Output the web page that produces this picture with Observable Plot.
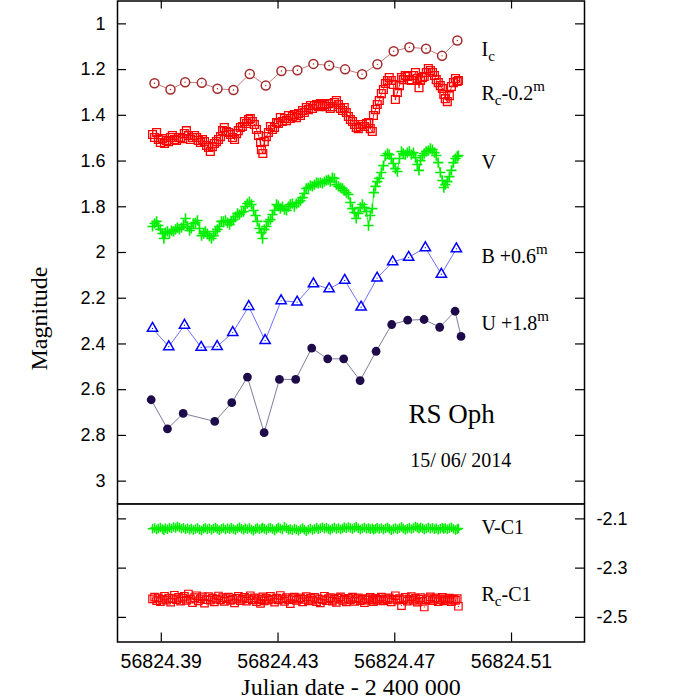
<!DOCTYPE html>
<html><head><meta charset="utf-8">
<script src="https://cdn.jsdelivr.net/npm/d3@7"></script>
<script src="https://cdn.jsdelivr.net/npm/@observablehq/plot@0.6"></script>
<style>
html,body{margin:0;padding:0;background:#fff;}
#wrap{position:relative;width:699px;height:700px;overflow:hidden;}
#top,#bot{position:absolute;left:0;}
#top{top:0;} #bot{top:502px;}
</style></head><body>
<div id="wrap"><div id="top"></div><div id="bot"></div></div>
<script>
// Julian date = JD0 + fraction
const JD0 = 56824;

// I_c
const icT = [.38767,.39315,.39818,.40387,.40925,.41473,.42031,.42579,.43116,.43664,.44212,.4475,.45298,.4588,.46404,.46962,.475,.48072,.4862,.49144];
const icMag = [1.260,1.287,1.255,1.258,1.284,1.289,1.219,1.270,1.206,1.203,1.175,1.182,1.199,1.220,1.177,1.120,1.102,1.109,1.140,1.073];

// B + 0.6
const bT = [.38699,.39257,.39795,.40366,.40914,.41449,.41997,.42558,.43106,.43654,.44212,.4475,.45284,.45846,.46394,.46928,.47476,.48048,.48596,.4911];
const bMag = [2.332,2.412,2.318,2.415,2.411,2.350,2.236,2.385,2.211,2.217,2.137,2.159,2.122,2.239,2.112,2.041,2.021,1.979,2.095,1.984];

// U + 1.8
const uT = [.38654,.39212,.3975,.40832,.41414,.41952,.42524,.43048,.43606,.44154,.44702,.4525,.45812,.4636,.46894,.47442,.48003,.48538,.49065,.4927];
const uMag = [2.644,2.771,2.704,2.739,2.657,2.545,2.788,2.555,2.555,2.418,2.465,2.465,2.560,2.432,2.315,2.296,2.293,2.327,2.257,2.367];

// R_c - 0.2
const rcT = [.3870,.3877,.3884,.3890,.3897,.3904,.3911,.3918,.3925,.3932,
.3938,.3945,.3952,.3959,.3966,.3973,.3979,.3986,.3993,.4000,
.4007,.4014,.4021,.4027,.4034,.4041,.4048,.4055,.4062,.4068,
.4075,.4082,.4089,.4096,.4103,.4110,.4116,.4123,.4130,.4137,
.4144,.4151,.4158,.4164,.4171,.4178,.4185,.4192,.4199,.4205,
.4212,.4219,.4226,.4233,.4240,.4243,.4248,.4253,.4260,.4267,
.4274,.4281,.4288,.4295,.4301,.4308,.4315,.4322,.4329,.4336,
.4342,.4349,.4356,.4363,.4370,.4377,.4384,.4390,.4397,.4404,
.4411,.4418,.4425,.4432,.4438,.4445,.4452,.4459,.4466,.4473,
.4479,.4486,.4493,.4500,.4507,.4514,.4521,.4527,.4534,.4541,
.4548,.4555,.4562,.4568,.4575,.4582,.4589,.4596,.4603,.4610,
.4616,.4623,.4627,.4634,.4640,.4647,.4654,.4661,.4668,.4675,
.4681,.4688,.4695,.4702,.4709,.4716,.4723,.4729,.4736,.4743,
.4750,.4757,.4764,.4771,.4777,.4783,.4788,.4795,.4801,.4808,
.4815,.4822,.4829,.4836,.4842,.4849,.4856,.4863,.4868,.4873,
.4880,.4887,.4894,.4901,.4908,.4914,.4918];
const rcMag = [1.484,1.497,1.475,1.506,1.519,1.502,1.523,1.510,1.515,1.497,
1.488,1.506,1.510,1.497,1.497,1.502,1.480,1.467,1.488,1.506,
1.497,1.488,1.497,1.510,1.519,1.506,1.515,1.532,1.541,1.558,
1.537,1.523,1.515,1.506,1.493,1.467,1.453,1.471,1.475,1.484,
1.497,1.506,1.480,1.467,1.453,1.449,1.427,1.436,1.418,1.414,
1.427,1.440,1.462,1.488,1.519,1.550,1.567,1.515,1.493,1.475,
1.449,1.462,1.453,1.432,1.436,1.410,1.427,1.414,1.423,1.401,
1.414,1.405,1.397,1.410,1.392,1.401,1.379,1.388,1.366,1.375,
1.357,1.370,1.357,1.353,1.362,1.349,1.357,1.353,1.362,1.349,
1.370,1.362,1.344,1.335,1.353,1.370,1.379,1.366,1.388,1.405,
1.418,1.427,1.440,1.453,1.458,1.449,1.440,1.449,1.436,1.432,
1.458,1.471,1.401,1.375,1.353,1.335,1.305,1.287,1.261,1.248,
1.235,1.248,1.265,1.331,1.300,1.270,1.235,1.244,1.226,1.230,
1.244,1.248,1.226,1.213,1.239,1.279,1.248,1.235,1.230,1.213,
1.195,1.204,1.213,1.226,1.244,1.257,1.270,1.283,1.309,1.327,
1.340,1.314,1.274,1.257,1.239,1.252,1.248];

// V
const vT = [.3870,.3877,.3884,.3890,.3897,.3904,.3909,.3914,
.3921,.3928,.3935,.3942,.3949,.3955,.3962,.3969,.3976,.3983,
.3990,.3997,.4003,.4010,.4017,.4024,.4031,.4038,.4045,.4051,
.4058,.4065,.4072,.4079,.4086,.4092,.4099,.4106,.4113,.4120,
.4127,.4134,.4140,.4147,.4154,.4161,.4168,.4175,.4182,.4188,
.4195,.4202,.4209,.4216,.4223,.4229,.4236,.4243,
.4247,
.4253,.4260,.4267,.4274,.4281,.4288,.4295,.4301,.4308,.4315,
.4322,.4329,.4336,.4342,.4349,.4356,.4363,.4370,.4377,.4384,
.4390,.4397,.4404,.4411,.4418,.4425,.4432,.4438,.4445,.4452,
.4459,.4466,.4473,.4479,.4486,.4493,.4500,.4507,.4514,.4521,
.4527,.4534,.4541,.4548,.4555,.4562,.4568,.4575,.4582,.4589,
.4596,.4603,.4610,.4616,.4623,
.4628,
.4634,.4640,.4647,.4654,.4661,.4668,.4675,.4681,.4688,.4695,
.4702,.4709,.4716,.4723,.4729,.4736,.4743,.4750,.4757,.4764,
.4771,.4777,
.4783,
.4788,.4795,.4801,.4808,.4815,.4822,.4829,.4836,.4842,.4849,.4856,.4863,
.4868,
.4873,.4880,.4887,.4894,.4901,.4908,.4914,
.4918];
const vMag = [1.886,1.873,1.864,1.882,1.899,1.917,1.939,1.913,
1.908,1.917,1.904,1.908,1.899,1.891,1.899,1.891,1.878,1.851,
1.886,1.904,1.895,1.873,1.869,1.860,1.895,1.926,1.917,1.908,
1.917,1.930,1.939,1.926,1.908,1.899,1.886,1.864,1.864,1.860,
1.869,1.878,1.864,1.856,1.843,1.829,1.834,1.825,1.821,1.799,
1.786,1.777,1.790,1.816,1.838,1.864,1.895,1.913,
1.939,
1.899,1.886,1.864,1.856,1.834,1.816,1.790,1.795,1.808,1.799,
1.812,1.816,1.799,1.790,1.786,1.799,1.786,1.781,1.773,1.760,
1.742,1.720,1.716,1.707,1.711,1.703,1.694,1.698,1.694,1.698,
1.690,1.685,1.681,1.690,1.672,1.676,1.703,1.711,1.716,1.720,
1.729,1.738,1.746,1.781,1.808,1.825,1.851,1.829,1.803,1.790,
1.803,1.821,1.882,1.838,1.808,
1.738,
1.711,1.690,1.676,1.650,1.620,1.576,1.567,1.572,1.589,1.611,
1.633,1.646,1.589,1.558,1.567,1.572,1.563,1.558,1.572,1.563,
1.585,1.615,
1.641,
1.598,1.576,1.567,1.558,1.554,1.545,1.550,1.563,1.576,1.607,1.650,1.685,
1.716,
1.703,1.690,1.668,1.641,1.607,1.589,1.580,
1.576];

// V - C1 (same epochs as V)
const vC1 = [-2.140,-2.137,-2.143,-2.139,-2.135,-2.141,-2.146,-2.138,-2.142,-2.136,
-2.139,-2.133,-2.137,-2.131,-2.135,-2.140,-2.136,-2.142,-2.138,-2.144,
-2.139,-2.145,-2.141,-2.137,-2.143,-2.147,-2.140,-2.136,-2.142,-2.138,
-2.144,-2.139,-2.135,-2.141,-2.146,-2.140,-2.137,-2.143,-2.138,-2.142,
-2.136,-2.141,-2.145,-2.139,-2.134,-2.140,-2.144,-2.138,-2.142,-2.137,
-2.143,-2.148,-2.141,-2.137,-2.142,-2.139,-2.135,-2.140,-2.145,-2.138,
-2.136,-2.141,-2.147,-2.140,-2.135,-2.139,-2.143,-2.132,-2.138,-2.144,
-2.141,-2.146,-2.139,-2.143,-2.148,-2.142,-2.137,-2.144,-2.150,-2.143,
-2.139,-2.145,-2.141,-2.136,-2.142,-2.138,-2.134,-2.140,-2.136,-2.141,
-2.145,-2.139,-2.135,-2.141,-2.137,-2.143,-2.139,-2.134,-2.138,-2.133,
-2.137,-2.141,-2.136,-2.132,-2.138,-2.143,-2.139,-2.135,-2.140,-2.137,
-2.142,-2.138,-2.144,-2.140,-2.136,-2.141,-2.137,-2.143,-2.139,-2.135,
-2.140,-2.146,-2.141,-2.137,-2.142,-2.138,-2.133,-2.139,-2.144,-2.140,
-2.136,-2.141,-2.137,-2.131,-2.135,-2.140,-2.134,-2.138,-2.143,-2.139,
-2.135,-2.140,-2.136,-2.142,-2.138,-2.144,-2.140,-2.136,-2.141,-2.137,
-2.142,-2.138,-2.134,-2.140,-2.145,-2.141,-2.139];

// R_c - C1 (same epochs as R_c)
const rcC1 = [-2.425,-2.418,-2.432,-2.421,-2.436,-2.427,-2.414,-2.430,-2.422,-2.438,
-2.424,-2.410,-2.428,-2.419,-2.434,-2.423,-2.415,-2.431,-2.405,-2.426,
-2.440,-2.420,-2.412,-2.433,-2.425,-2.417,-2.442,-2.428,-2.416,-2.430,
-2.422,-2.437,-2.426,-2.413,-2.429,-2.420,-2.435,-2.424,-2.418,-2.431,
-2.427,-2.441,-2.423,-2.415,-2.432,-2.426,-2.419,-2.434,-2.424,-2.412,
-2.429,-2.421,-2.436,-2.425,-2.443,-2.428,-2.417,-2.433,-2.423,-2.430,
-2.415,-2.426,-2.438,-2.422,-2.429,-2.411,-2.425,-2.435,-2.420,-2.428,
-2.444,-2.424,-2.418,-2.431,-2.426,-2.421,-2.437,-2.427,-2.416,-2.433,
-2.423,-2.430,-2.419,-2.436,-2.425,-2.441,-2.428,-2.414,-2.432,-2.424,
-2.420,-2.434,-2.427,-2.439,-2.422,-2.417,-2.431,-2.426,-2.437,-2.423,
-2.429,-2.418,-2.435,-2.425,-2.421,-2.432,-2.427,-2.440,-2.424,-2.430,
-2.419,-2.428,-2.436,-2.423,-2.431,-2.426,-2.418,-2.433,-2.425,-2.429,
-2.421,-2.437,-2.427,-2.412,-2.430,-2.424,-2.452,-2.428,-2.419,-2.434,
-2.426,-2.416,-2.431,-2.423,-2.438,-2.427,-2.420,-2.435,-2.458,-2.429,
-2.424,-2.417,-2.432,-2.426,-2.421,-2.436,-2.428,-2.419,-2.433,-2.425,
-2.430,-2.422,-2.436,-2.427,-2.431,-2.424,-2.455];

// axes
const magTicks = [1, 1.2, 1.4, 1.6, 1.8, 2, 2.2, 2.4, 2.6, 2.8, 3];
const diffTicks = [-2.1, -2.3, -2.5];
const jdTicks = [56824.39, 56824.43, 56824.47, 56824.51];
const xDomain = [56824.375, 56824.535];
const magDomain = [0.9, 3.1];
const diffDomain = [-2.6, -2.04];

// labels
const topLabels = [
  {t: .4997, m: 1.111, s: "I_c"},
  {t: .4997, m: 1.305, s: "R_c-0.2^m"},
  {t: .4997, m: 1.605, s: "V"},
  {t: .4997, m: 2.016, s: "B +0.6^m"},
  {t: .4997, m: 2.313, s: "U +1.8^m"}
];
const botLabels = [
  {t: .4997, m: -2.134, s: "V-C1"},
  {t: .4997, m: -2.406, s: "R_c-C1"}
];
const starName = "RS Oph", obsDate = "15/ 06/ 2014";
const yTitle = "Magnitude", xTitle = "Julian date - 2 400 000";

const pts = (T, M) => T.slice(0, Math.min(T.length, M.length)).map((t, i) => ({x: JD0 + t, y: M[i]}));
const Ic = pts(icT, icMag), B = pts(bT, bMag), U = pts(uT, uMag), Rc = pts(rcT, rcMag), V = pts(vT, vMag);
const VC = pts(vT, vC1), RC = pts(rcT, rcC1);

const sans = "'Liberation Sans', Arial, Helvetica, sans-serif";
const serif = "'Liberation Serif', 'Times New Roman', serif";
const W = 699, ML = 117, MR = 115, innerW = W - ML - MR;
const col = {ic: "#a52a2a", icL: "#c27a7a", rc: "#ff0000", v: "#00ee00", b: "#0000ff", bL: "#7070ff", u: "#1c0c4a", uL: "#807c9e"};

const topH = 504, topMT = 0.5, topMB = 0.5, topInner = topH - topMT - topMB;
const topPlot = Plot.plot({
  width: W, height: topH, marginLeft: ML, marginRight: MR, marginTop: topMT, marginBottom: topMB,
  style: {background: "transparent", fontFamily: sans},
  x: {domain: xDomain, axis: null},
  y: {domain: magDomain, reverse: true, axis: null},
  marks: [
    Plot.axisY({ticks: magTicks, anchor: "left", tickSize: 0, tickPadding: 12, fontSize: 18, fontFamily: sans, tickFormat: d => String(d), label: null}),
    Plot.tickY(magTicks, {y: d => d, insetRight: innerW - 9, stroke: "#000", strokeWidth: 1.2}),
    Plot.tickY(magTicks, {y: d => d, insetLeft: innerW - 9, stroke: "#000", strokeWidth: 1.2}),
    Plot.tickX(jdTicks, {x: d => d, insetBottom: topInner - 8, stroke: "#000", strokeWidth: 1.2}),
    // I_c
    Plot.line(Ic, {x: "x", y: "y", stroke: col.icL, strokeWidth: 1}),
    Plot.dot(Ic, {x: "x", y: "y", symbol: "circle", r: 4.5, stroke: col.ic, fill: "white", strokeWidth: 1.5}),
    Plot.dot(Ic, {x: "x", y: "y", r: 0.7, fill: col.ic, stroke: "none"}),
    // R_c
    Plot.line(Rc, {x: "x", y: "y", stroke: col.rc, strokeWidth: 0.8}),
    Plot.dot(Rc, {x: "x", y: "y", symbol: "square", r: 4.4, stroke: col.rc, fill: "none", strokeWidth: 1.3}),
    Plot.dot(Rc, {x: "x", y: "y", r: 0.6, fill: col.rc, stroke: "none"}),
    // V
    Plot.line(V, {x: "x", y: "y", stroke: col.v, strokeWidth: 0.8}),
    Plot.dot(V, {x: "x", y: "y", symbol: "plus", r: 3.4, stroke: col.v, strokeWidth: 1.6}),
    // B
    Plot.line(B, {x: "x", y: "y", stroke: col.bL, strokeWidth: 1}),
    Plot.dot(B, {x: "x", y: "y", symbol: "triangle", r: 3.8, stroke: col.b, fill: "white", strokeWidth: 1.5}),
    Plot.dot(B, {x: "x", y: "y", r: 0.6, fill: col.b, stroke: "none"}),
    // U
    Plot.line(U, {x: "x", y: "y", stroke: col.uL, strokeWidth: 1}),
    Plot.dot(U, {x: "x", y: "y", r: 4.4, fill: col.u, stroke: "none"}),
    // labels
    Plot.text(topLabels, {x: d => JD0 + d.t, y: "m", text: "s", textAnchor: "start", lineAnchor: "middle", fontSize: 20, fontFamily: serif, fill: "#000"}),
    Plot.text([starName], {x: [JD0 + .4747], y: [2.706], text: d => d, textAnchor: "start", lineAnchor: "middle", fontSize: 27, fontFamily: serif, fill: "#000"}),
    Plot.text([obsDate], {x: [JD0 + .4753], y: [2.912], text: d => d, textAnchor: "start", lineAnchor: "middle", fontSize: 20, fontFamily: serif, fill: "#000"}),
    Plot.text([yTitle], {frameAnchor: "left", rotate: -90, dx: -78, dy: 66, textAnchor: "middle", lineAnchor: "middle", fontSize: 24, fontFamily: serif, fill: "#000"}),
    Plot.frame({stroke: "#000", strokeWidth: 1.5})
  ]
});

const botH = 198, botMT = 1.6, botMB = 58.5, botInner = botH - botMT - botMB;
const botPlot = Plot.plot({
  width: W, height: botH, marginLeft: ML, marginRight: MR, marginTop: botMT, marginBottom: botMB,
  style: {background: "transparent", fontFamily: sans},
  x: {domain: xDomain, axis: null},
  y: {domain: diffDomain, axis: null},
  marks: [
    Plot.axisX({ticks: jdTicks, anchor: "bottom", tickSize: 0, tickPadding: 12, fontSize: 19.5, fontFamily: sans, tickFormat: d3.format(".2f"), label: null}),
    Plot.axisY({ticks: diffTicks, anchor: "right", tickSize: 0, tickPadding: 12, fontSize: 18, fontFamily: sans, tickFormat: d => d.toFixed(1), label: null}),
    Plot.tickY(diffTicks, {y: d => d, insetRight: innerW - 9, stroke: "#000", strokeWidth: 1.2}),
    Plot.tickY(diffTicks, {y: d => d, insetLeft: innerW - 9, stroke: "#000", strokeWidth: 1.2}),
    Plot.tickX(jdTicks, {x: d => d, insetTop: botInner - 9, stroke: "#000", strokeWidth: 1.2}),
    Plot.dot(VC, {x: "x", y: "y", symbol: "plus", r: 3.2, stroke: col.v, strokeWidth: 1.5}),
    Plot.dot(RC, {x: "x", y: "y", symbol: "square", r: 4.2, stroke: col.rc, fill: "none", strokeWidth: 1.2}),
    Plot.dot(RC, {x: "x", y: "y", r: 0.6, fill: col.rc, stroke: "none"}),
    Plot.text(botLabels, {x: d => JD0 + d.t, y: "m", text: "s", textAnchor: "start", lineAnchor: "middle", fontSize: 20, fontFamily: serif, fill: "#000"}),
    Plot.text([xTitle], {frameAnchor: "bottom", dy: 45.5, textAnchor: "middle", lineAnchor: "middle", fontSize: 24, fontFamily: serif, fill: "#000"}),
    Plot.frame({stroke: "#000", strokeWidth: 1.5})
  ]
});

function rich(svg) {
  d3.select(svg).selectAll("text").each(function () {
    const s = this.textContent;
    if (!/[_^]/.test(s)) return;
    const el = d3.select(this);
    el.text(null);
    let shift = 0, m;
    const re = /([_^])(.)|([^_^]+)/g;
    while ((m = re.exec(s))) {
      if (m[3]) { el.append("tspan").attr("dy", -shift).text(m[3]); shift = 0; }
      else {
        const d = m[1] === "_" ? 5 : -9;
        el.append("tspan").attr("dy", d - shift).attr("font-size", 15).text(m[2]);
        shift = d;
      }
    }
  });
}
rich(topPlot); rich(botPlot);
document.getElementById("top").appendChild(topPlot);
document.getElementById("bot").appendChild(botPlot);
</script>
</body></html>
